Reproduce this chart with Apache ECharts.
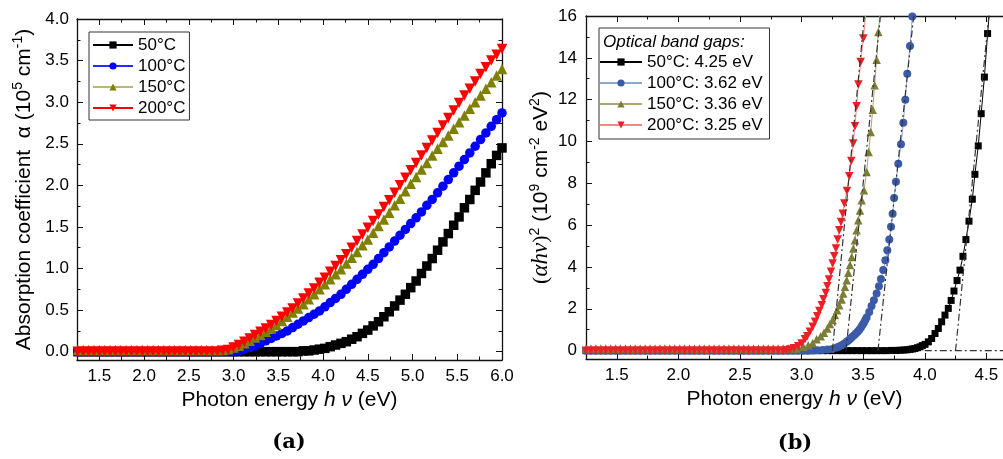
<!DOCTYPE html>
<html>
<head>
<meta charset="utf-8">
<script src="https://cdn.jsdelivr.net/npm/echarts@6/dist/echarts.min.js"></script>
<style>
html,body{margin:0;padding:0;background:#fff;}
#chart{width:1003px;height:459px;}
</style>
</head>
<body>
<div id="chart"></div>
<script>
// ---------- (a) absorption coefficient, 10^5 cm^-1 ----------
const energyA = [1.26,1.32,1.38,1.44,1.50,1.56,1.62,1.68,1.74,1.80,1.86,1.92,1.98,2.04,2.10,2.16,2.22,2.28,2.34,2.40,
  2.46,2.52,2.58,2.64,2.70,2.76,2.82,2.88,2.94,3.00,3.06,3.12,3.18,3.24,3.30,3.36,3.42,3.48,3.54,3.60,
  3.66,3.72,3.78,3.84,3.90,3.96,4.02,4.08,4.14,4.20,4.26,4.32,4.38,4.44,4.50,4.56,4.62,4.68,4.74,4.80,
  4.86,4.92,4.98,5.04,5.10,5.16,5.22,5.28,5.34,5.40,5.46,5.52,5.58,5.64,5.70,5.76,5.82,5.88,5.94,6.00];
const alpha50 = [0,0,0,0,0,0,0,0,0,0,0,0,0,0,0,0,0,0,0,0,
  0,0,0,0,0,0,0,0,0,0,0,0,0,0,0,0,0,0,0,0,
  0.00,0.00,0.01,0.01,0.02,0.03,0.04,0.06,0.08,0.10,0.12,0.15,0.18,0.22,0.26,0.31,0.36,0.42,0.48,0.55,
  0.62,0.69,0.77,0.85,0.94,1.03,1.12,1.22,1.32,1.42,1.52,1.62,1.73,1.83,1.94,2.04,2.15,2.26,2.36,2.45];
const alpha100 = [0,0,0,0,0,0,0,0,0,0,0,0,0,0,0,0,0,0,0,0,
  0,0,0,0,0,0,0,0,0,0,0.01,0.03,0.05,0.07,0.10,0.13,0.16,0.19,0.22,0.25,
  0.29,0.33,0.37,0.41,0.45,0.49,0.54,0.59,0.64,0.69,0.75,0.81,0.87,0.93,0.99,1.05,1.12,1.19,1.26,1.33,
  1.40,1.47,1.54,1.61,1.68,1.76,1.83,1.91,1.99,2.07,2.15,2.23,2.31,2.39,2.47,2.55,2.63,2.71,2.79,2.87];
const alpha150 = [0.02,0.02,0.02,0.02,0.02,0.02,0.02,0.02,0.02,0.02,0.02,0.02,0.02,0.02,0.02,0.02,0.02,0.02,0.02,0.02,
  0.02,0.02,0.02,0.02,0.02,0.02,0.02,0.02,0.03,0.05,0.07,0.10,0.13,0.17,0.20,0.24,0.28,0.32,0.37,0.42,
  0.47,0.52,0.57,0.63,0.69,0.75,0.81,0.87,0.93,0.99,1.06,1.13,1.20,1.28,1.35,1.43,1.51,1.59,1.67,1.76,
  1.84,1.93,2.02,2.10,2.19,2.27,2.36,2.44,2.52,2.60,2.68,2.76,2.84,2.92,3.00,3.08,3.16,3.24,3.32,3.40];
const alpha200 = [0,0,0,0,0,0,0,0,0,0,0,0,0,0,0,0,0,0,0,0,
  0,0,0,0,0,0,0.00,0.01,0.02,0.05,0.08,0.12,0.16,0.20,0.24,0.28,0.32,0.37,0.42,0.47,
  0.52,0.58,0.64,0.70,0.76,0.83,0.89,0.96,1.03,1.10,1.17,1.25,1.33,1.41,1.49,1.57,1.65,1.74,1.82,1.91,
  2.00,2.09,2.18,2.27,2.36,2.45,2.54,2.63,2.72,2.81,2.90,2.99,3.08,3.16,3.25,3.34,3.42,3.50,3.57,3.64];

// ---------- (b) Tauc plot, (alpha h nu)^2 in 10^9 cm^-2 eV^2 ----------
const flatEnergyB = [1.25,1.29,1.33,1.37,1.41,1.45,1.49,1.53,1.57,1.61,1.65,1.69,1.73,1.77,1.81,1.85,1.89,1.93,1.97,2.01,
  2.05,2.09,2.13,2.17,2.21,2.25,2.29,2.33,2.37,2.41,2.45,2.49,2.53,2.57,2.61,2.65,2.69,2.73,2.77,2.81,2.85];
const flatZeroB = [0,0,0,0,0,0,0,0,0,0,0,0,0,0,0,0,0,0,0,0,0,0,0,0,0,0,0,0,0,0,0,0,0,0,0,0,0,0,0,0,0];
const flatOliveB = [0.1,0.1,0.1,0.1,0.1,0.1,0.1,0.1,0.1,0.1,0.1,0.1,0.1,0.1,0.1,0.1,0.1,0.1,0.1,0.1,
  0.1,0.1,0.1,0.1,0.1,0.1,0.1,0.1,0.1,0.1,0.1,0.1,0.1,0.1,0.1,0.1,0.1,0.1,0.1,0.1,0.1];

const tauc50E = [2.89,2.93,2.97,3.01,3.05,3.09,3.13,3.17,3.21,3.25,3.29,3.33,3.37,3.41,3.45,3.49,3.53,3.57,3.61,3.65,3.69,3.73,3.77,
  3.80,3.83,3.855,3.88,3.90,3.92,3.94,3.961,3.98,4.002,4.029,4.056,4.083,4.110,4.137,4.164,4.191,4.214,4.237,4.262,
  4.286,4.310,4.334,4.359,4.386,4.407,4.434,4.458,4.484,4.510,4.530];
const tauc50V = [0,0,0,0,0,0,0,0,0,0,0,0,0,0,0,0,0,0,0,0,0,0.01,0.01,
  0.02,0.03,0.04,0.06,0.08,0.10,0.14,0.18,0.24,0.30,0.42,0.58,0.82,1.06,1.38,1.70,2.02,2.40,2.85,3.35,
  3.85,4.51,5.31,6.19,7.24,8.43,9.79,11.33,13.08,15.16,16.60];

const tauc100E = [2.89,2.93,2.97,3.01,3.05,3.09,3.13,3.17,3.21,3.25,3.285,3.305,3.325,3.345,3.366,3.382,3.398,3.412,3.427,3.441,
  3.455,3.469,3.482,3.494,3.506,3.517,3.528,3.549,3.568,3.587,3.609,3.628,3.644,3.663,3.680,3.696,3.712,3.726,3.739,3.751,
  3.766,3.785,3.807,3.826,3.842,3.858,3.880,3.899,3.915];
const tauc100V = [0,0,0,0,0,0.01,0.02,0.03,0.05,0.08,0.15,0.20,0.26,0.33,0.42,0.50,0.58,0.66,0.74,0.82,
  0.90,1.00,1.11,1.22,1.33,1.46,1.59,1.85,2.13,2.41,2.73,3.08,3.43,3.85,4.32,4.80,5.31,5.92,6.55,7.30,
  8.07,8.94,9.87,10.90,12.00,13.24,14.56,15.98,16.90];

const tauc150E = [2.89,2.93,2.960,3.014,3.054,3.090,3.122,3.155,3.182,3.209,3.230,3.252,3.271,3.289,3.306,3.325,3.338,3.352,3.366,3.379,
  3.393,3.407,3.420,3.433,3.447,3.460,3.474,3.488,3.506,3.528,3.544,3.561,3.577,3.593,3.609,3.623,3.640];
const tauc150V = [0.10,0.10,0.10,0.18,0.26,0.37,0.54,0.69,0.85,1.06,1.27,1.46,1.70,1.93,2.17,2.45,2.73,3.05,3.37,3.72,
  4.09,4.48,4.88,5.28,5.76,6.24,6.70,7.19,7.67,8.54,9.50,10.45,11.52,12.69,13.91,15.23,16.40];

const tauc200E = [2.88,2.906,2.938,2.973,3.000,3.027,3.046,3.067,3.090,3.109,3.127,3.144,3.164,3.177,3.196,3.209,3.222,3.239,3.252,3.265,
  3.279,3.293,3.306,3.320,3.334,3.347,3.368,3.387,3.403,3.419,3.433,3.447,3.461,3.480,3.501,3.522];
const tauc200V = [0.02,0.06,0.11,0.21,0.34,0.54,0.69,0.90,1.14,1.38,1.65,1.90,2.17,2.46,2.76,3.08,3.40,3.77,4.17,4.51,
  4.88,5.31,5.76,6.15,6.55,7.03,7.63,8.34,9.07,9.90,10.73,11.68,12.73,13.80,14.92,16.10];

// linear fits: x-intercept (band gap) and the energy where each fit leaves the top of the plot
const tempLabels = ['50°C', '100°C', '150°C', '200°C'];
const bandGaps = [4.25, 3.62, 3.36, 3.25];
const fitTopEnergy = [4.52, 3.91, 3.64, 3.51];
const fitTopValue = 16;
const baselineFromEnergy = 4.0;

// axis ticks
const ticksAx = [1.5,2.0,2.5,3.0,3.5,4.0,4.5,5.0,5.5,6.0];
const minorAx = [1.75,2.25,2.75,3.25,3.75,4.25,4.75,5.25,5.75];
const ticksAy = [0,0.5,1.0,1.5,2.0,2.5,3.0,3.5,4.0];
const minorAy = [0.25,0.75,1.25,1.75,2.25,2.75,3.25,3.75];
const ticksBx = [1.5,2.0,2.5,3.0,3.5,4.0,4.5];
const minorBx = [1.75,2.25,2.75,3.25,3.75,4.25];
const ticksBy = [0,2,4,6,8,10,12,14,16];
const minorBy = [1,3,5,7,9,11,13,15];

const FONT = '"Liberation Sans", Arial, sans-serif';
const SERIF = '"Liberation Serif", "DejaVu Serif", serif';
const pairs = (xs, ys) => xs.map((x, i) => [x, ys[i]]);

function tickAxis(grid, pos, min, max, values, len, withLine, label) {
  return {
    type: 'value', gridIndex: grid, position: pos, min: min, max: max,
    axisLine: { show: withLine, onZero: false, lineStyle: { color: '#111', width: 1.3 } },
    axisTick: { show: true, inside: true, length: len, customValues: values, lineStyle: { color: '#111', width: 1 } },
    axisLabel: label ? Object.assign({ show: true, customValues: values, color: '#000', fontSize: 17, fontFamily: FONT }, label) : { show: false },
    splitLine: { show: false }, minorTick: { show: false }, silent: true
  };
}

const NAME_SIZE = 21;
const xName = {
  name: 'Photon energy {i|h ν} (eV)', nameLocation: 'middle', nameGap: 28,
  nameTextStyle: { fontSize: NAME_SIZE, fontFamily: FONT, color: '#000',
    rich: { i: { fontSize: NAME_SIZE, fontStyle: 'italic', fontFamily: FONT, color: '#000' } } }
};
const supStyle = { fontSize: 14, fontFamily: FONT, color: '#000', verticalAlign: 'top', lineHeight: 13 };

const A_XMIN = 1.25, A_XMAX = 6.0, A_YMIN = -0.1, A_YMAX = 4.0;
const B_XMIN = 1.25, B_XMAX = 4.635, B_YMIN = -0.4, B_YMAX = 16;

const xAxes = [
  Object.assign(tickAxis(0, 'bottom', A_XMIN, A_XMAX, ticksAx, 6, true, { margin: 8, formatter: v => v.toFixed(1) }), xName),
  tickAxis(0, 'bottom', A_XMIN, A_XMAX, minorAx, 3.5, false, null),
  tickAxis(0, 'top', A_XMIN, A_XMAX, ticksAx, 6, true, null),
  tickAxis(0, 'top', A_XMIN, A_XMAX, minorAx, 3.5, false, null),
  Object.assign(tickAxis(1, 'bottom', B_XMIN, B_XMAX, ticksBx, 6, true, { margin: 8, formatter: v => v.toFixed(1) }), xName),
  tickAxis(1, 'bottom', B_XMIN, B_XMAX, minorBx, 3.5, false, null),
  tickAxis(1, 'top', B_XMIN, B_XMAX, ticksBx, 6, true, null),
  tickAxis(1, 'top', B_XMIN, B_XMAX, minorBx, 3.5, false, null)
];

const yAxes = [
  Object.assign(tickAxis(0, 'left', A_YMIN, A_YMAX, ticksAy, 6, true, { margin: 8, formatter: v => v.toFixed(1) }), {
    name: 'Absorption coefficient  α (10{s|5} cm{s|-1})', nameLocation: 'middle', nameGap: 40,
    nameTextStyle: { fontSize: NAME_SIZE, fontFamily: FONT, color: '#000', lineHeight: 26, rich: { s: supStyle } }
  }),
  tickAxis(0, 'left', A_YMIN, A_YMAX, minorAy, 3.5, false, null),
  tickAxis(0, 'right', A_YMIN, A_YMAX, ticksAy, 6, true, null),
  tickAxis(0, 'right', A_YMIN, A_YMAX, minorAy, 3.5, false, null),
  Object.assign(tickAxis(1, 'left', B_YMIN, B_YMAX, ticksBy, 6, true, { margin: 9, formatter: v => String(v) }), {
    name: '{p|(}{g|αhν}{p|)}{s|2}{t| (10}{s|9}{t| cm}{s|-2}{t| eV}{s|2}{t|)}', nameLocation: 'middle', nameGap: 31,
    nameTextStyle: { fontSize: NAME_SIZE, fontFamily: FONT, color: '#000', lineHeight: 26,
      rich: {
        p: { fontSize: 22, fontFamily: SERIF, color: '#000', lineHeight: 26 },
        g: { fontSize: 23, fontFamily: SERIF, fontStyle: 'italic', color: '#000', lineHeight: 26 },
        t: { fontSize: NAME_SIZE, fontFamily: FONT, color: '#000', lineHeight: 26 },
        s: supStyle
      } }
  }),
  tickAxis(1, 'left', B_YMIN, B_YMAX, minorBy, 3.5, false, null)
];

// marker style per temperature, panel (a) and panel (b)
const styles = [
  { symbol: 'rect', rotate: 0, cA: '#000000', lA: '#000000', cB: '#000000', lB: '#000000', sA: 9.5, sB: 7 },
  { symbol: 'circle', rotate: 0, cA: '#0000ff', lA: '#2a2aff', cB: '#3b5ba9', lB: '#8ea5d8', sA: 9.5, sB: 8 },
  { symbol: 'triangle', rotate: 0, cA: '#808000', lA: '#b8b874', cB: '#7d7d3a', lB: '#a9a96a', sA: 10.5, sB: 8.5 },
  { symbol: 'triangle', rotate: 180, cA: '#ff0000', lA: '#ff0000', cB: '#ec2027', lB: '#f08a8a', sA: 10.5, sB: 8.5 }
];

const seriesA = [alpha50, alpha100, alpha150, alpha200];
const seriesBE = [tauc50E, tauc100E, tauc150E, tauc200E];
const seriesBV = [tauc50V, tauc100V, tauc150V, tauc200V];
const flatBV = [flatZeroB, flatZeroB, flatOliveB, flatZeroB];
const legendB = tempLabels.map((t, i) => t + ': ' + bandGaps[i].toFixed(2) + ' eV');

const series = [];
tempLabels.forEach((name, i) => {
  const st = styles[i];
  series.push({
    name: name, type: 'line', xAxisIndex: 0, yAxisIndex: 0,
    data: pairs(energyA, seriesA[i]),
    symbol: st.symbol, symbolRotate: st.rotate, symbolSize: st.sA, showAllSymbol: true,
    itemStyle: { color: st.cA }, lineStyle: { color: st.lA, width: 1 }, z: 2 + i, clip: true
  });
});
tempLabels.forEach((name, i) => {
  const st = styles[i];
  series.push({
    name: legendB[i], type: 'line', xAxisIndex: 4, yAxisIndex: 4,
    data: pairs(flatEnergyB.concat(seriesBE[i]), flatBV[i].concat(seriesBV[i])),
    symbol: st.symbol, symbolRotate: st.rotate, symbolSize: st.sB, showAllSymbol: true,
    itemStyle: { color: st.cB }, lineStyle: { color: st.lB, width: 1 }, z: 2 + i, clip: true
  });
});
// dash-dot tangent lines and the baseline under the 50°C edge
const dashDot = { color: '#333', width: 1.2, type: [7, 3, 2, 3] };
bandGaps.forEach((g, i) => {
  series.push({
    type: 'line', xAxisIndex: 4, yAxisIndex: 4, data: [[g, 0], [fitTopEnergy[i], fitTopValue]],
    symbol: 'none', lineStyle: dashDot, z: 10, silent: true, clip: true
  });
});
series.push({
  type: 'line', xAxisIndex: 4, yAxisIndex: 4, data: [[baselineFromEnergy, 0], [B_XMAX, 0]],
  symbol: 'none', lineStyle: dashDot, z: 10, silent: true, clip: true
});

const chart = echarts.init(document.getElementById('chart'), null, { renderer: 'canvas' });
chart.setOption({
  animation: false,
  backgroundColor: '#fff',
  grid: [
    { left: 77, right: 1003 - 502, top: 19, bottom: 459 - 360, outerBoundsMode: 'none', containLabel: false },
    { left: 586, right: 0, top: 16, bottom: 459 - 359, outerBoundsMode: 'none', containLabel: false }
  ],
  xAxis: xAxes,
  yAxis: yAxes,
  legend: [
    {
      data: tempLabels, orient: 'vertical', left: 89, top: 32, selectedMode: false,
      itemWidth: 40, itemHeight: 9, itemGap: 3, itemTextGap: 5,
      padding: [4, 4, 3, 3], borderColor: '#333', borderWidth: 1, backgroundColor: '#fff',
      textStyle: { fontSize: 17, fontFamily: FONT, color: '#000', lineHeight: 18 }
    },
    {
      data: legendB, orient: 'vertical', left: 599, top: 28, selectedMode: false,
      itemWidth: 42, itemHeight: 9, itemGap: 3, itemTextGap: 5,
      padding: [25, 7, 5, 0], borderColor: '#333', borderWidth: 1, backgroundColor: '#fff',
      textStyle: { fontSize: 17, fontFamily: FONT, color: '#000', lineHeight: 18 }
    }
  ],
  graphic: [
    { type: 'text', x: 603, y: 42, z: 100,
      style: { text: 'Optical band gaps:', font: 'italic 17px "Liberation Sans", Arial, sans-serif', fill: '#000',
        textAlign: 'left', textVerticalAlign: 'middle', align: 'left', verticalAlign: 'middle' } },
    { type: 'text', x: 289, y: 443, z: 100,
      style: { text: '(a)', font: 'bold 21px "DejaVu Serif", serif', fill: '#000',
        textAlign: 'center', textVerticalAlign: 'middle', align: 'center', verticalAlign: 'middle' } },
    { type: 'text', x: 795, y: 444, z: 100,
      style: { text: '(b)', font: 'bold 21px "DejaVu Serif", serif', fill: '#000',
        textAlign: 'center', textVerticalAlign: 'middle', align: 'center', verticalAlign: 'middle' } }
  ],
  series: series
});
</script>
</body>
</html>
